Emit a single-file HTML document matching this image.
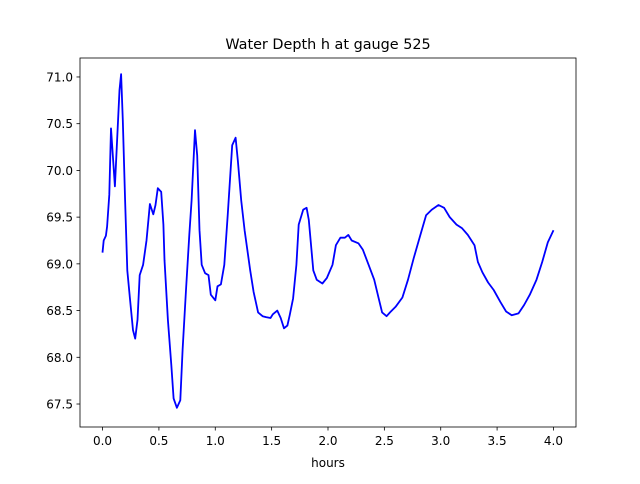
<!DOCTYPE html>
<html><head><meta charset="utf-8"><style>
body{margin:0;background:#fff;font-family:"DejaVu Sans","Liberation Sans",sans-serif;}
svg text{font-family:"DejaVu Sans","Liberation Sans",sans-serif;}
</style></head><body>
<svg id="chart" width="640" height="480" viewBox="0 0 640 480" xmlns="http://www.w3.org/2000/svg">
<rect width="640" height="480" fill="#fff"/>
<text x="328" y="49" font-size="14.4" text-anchor="middle">Water Depth h at gauge 525</text>
<g id="xt"></g>
<g id="yt"></g>
<polyline id="line" fill="none" stroke="#0000ff" stroke-width="1.8" stroke-linejoin="round"/>
<rect x="80" y="58" width="496" height="369" fill="none" stroke="#000" stroke-width="0.8"/>
<text x="328" y="467" font-size="12" text-anchor="middle">hours</text>
</svg>
<script>
const hours=[0,0.01,0.03,0.04,0.06,0.075,0.11,0.15,0.165,0.18,0.2,0.22,0.245,0.27,0.29,0.31,0.33,0.36,0.39,0.42,0.45,0.47,0.49,0.52,0.54,0.55,0.58,0.61,0.63,0.66,0.69,0.71,0.74,0.77,0.79,0.82,0.84,0.86,0.88,0.91,0.94,0.96,1.0,1.02,1.05,1.08,1.11,1.15,1.18,1.2,1.23,1.26,1.31,1.34,1.38,1.42,1.45,1.49,1.51,1.55,1.58,1.61,1.64,1.66,1.69,1.72,1.74,1.78,1.81,1.83,1.87,1.9,1.95,1.99,2.04,2.07,2.11,2.15,2.18,2.21,2.27,2.31,2.36,2.41,2.45,2.48,2.52,2.55,2.6,2.66,2.71,2.76,2.82,2.87,2.92,2.98,3.03,3.08,3.14,3.19,3.24,3.3,3.33,3.37,3.42,3.47,3.53,3.58,3.63,3.69,3.74,3.79,3.85,3.9,3.95,4.0];
const depths=[69.12,69.25,69.3,69.4,69.74,70.45,69.83,70.86,71.03,70.54,69.68,68.93,68.6,68.29,68.2,68.4,68.88,68.99,69.25,69.64,69.53,69.63,69.81,69.77,69.42,69.04,68.4,67.92,67.56,67.46,67.54,68.08,68.72,69.31,69.68,70.43,70.16,69.36,68.99,68.9,68.88,68.67,68.61,68.76,68.78,68.99,69.52,70.27,70.35,70.11,69.68,69.36,68.93,68.7,68.48,68.44,68.43,68.42,68.46,68.5,68.42,68.31,68.34,68.45,68.63,68.99,69.42,69.58,69.6,69.47,68.93,68.83,68.79,68.85,68.99,69.2,69.28,69.28,69.31,69.25,69.22,69.15,68.99,68.83,68.63,68.48,68.44,68.48,68.54,68.64,68.83,69.06,69.31,69.52,69.58,69.63,69.6,69.5,69.42,69.38,69.31,69.2,69.02,68.91,68.8,68.72,68.59,68.49,68.45,68.47,68.56,68.67,68.83,69.02,69.23,69.36];
const xTicks=[0,0.5,1,1.5,2,2.5,3,3.5,4];
const xTickLabels=["0.0","0.5","1.0","1.5","2.0","2.5","3.0","3.5","4.0"];
const yTicks=[67.5,68,68.5,69,69.5,70,70.5,71];
const yTickLabels=["67.5","68.0","68.5","69.0","69.5","70.0","70.5","71.0"];
const L=80,R=576,T=58,B=427;
const xMin=-0.2,xMax=4.2,yMin=67.254,yMax=71.203;
const sx=v=>L+(v-xMin)/(xMax-xMin)*(R-L);
const sy=v=>B-(v-yMin)/(yMax-yMin)*(B-T);
const NS="http://www.w3.org/2000/svg";
const xt=document.getElementById('xt'),yt=document.getElementById('yt');
xTicks.forEach((v,i)=>{
 const l=document.createElementNS(NS,'line');
 
 
 l.setAttribute('x1',sx(v));l.setAttribute('x2',sx(v));l.setAttribute('y1',B);l.setAttribute('y2',B+3.5);l.setAttribute('stroke','#000');l.setAttribute('stroke-width','0.8');xt.appendChild(l);
 const t=document.createElementNS(NS,'text');
 
 
 t.setAttribute('x',sx(v));t.setAttribute('y',B+18);t.setAttribute('font-size','12');t.setAttribute('text-anchor','middle');t.textContent=xTickLabels[i];xt.appendChild(t);
});
yTicks.forEach((v,i)=>{
 const l=document.createElementNS(NS,'line');
 
 
 l.setAttribute('x1',L-3.5);l.setAttribute('x2',L);l.setAttribute('y1',sy(v));l.setAttribute('y2',sy(v));l.setAttribute('stroke','#000');l.setAttribute('stroke-width','0.8');yt.appendChild(l);
 const t=document.createElementNS(NS,'text');
 
 
 t.setAttribute('x',L-7);t.setAttribute('y',sy(v)+4.5);t.setAttribute('font-size','12');t.setAttribute('text-anchor','end');t.textContent=yTickLabels[i];yt.appendChild(t);
});
document.getElementById('line').setAttribute('points',hours.map((h,i)=>sx(h).toFixed(1)+','+sy(depths[i]).toFixed(1)).join(' '));
</script>
</body></html>
